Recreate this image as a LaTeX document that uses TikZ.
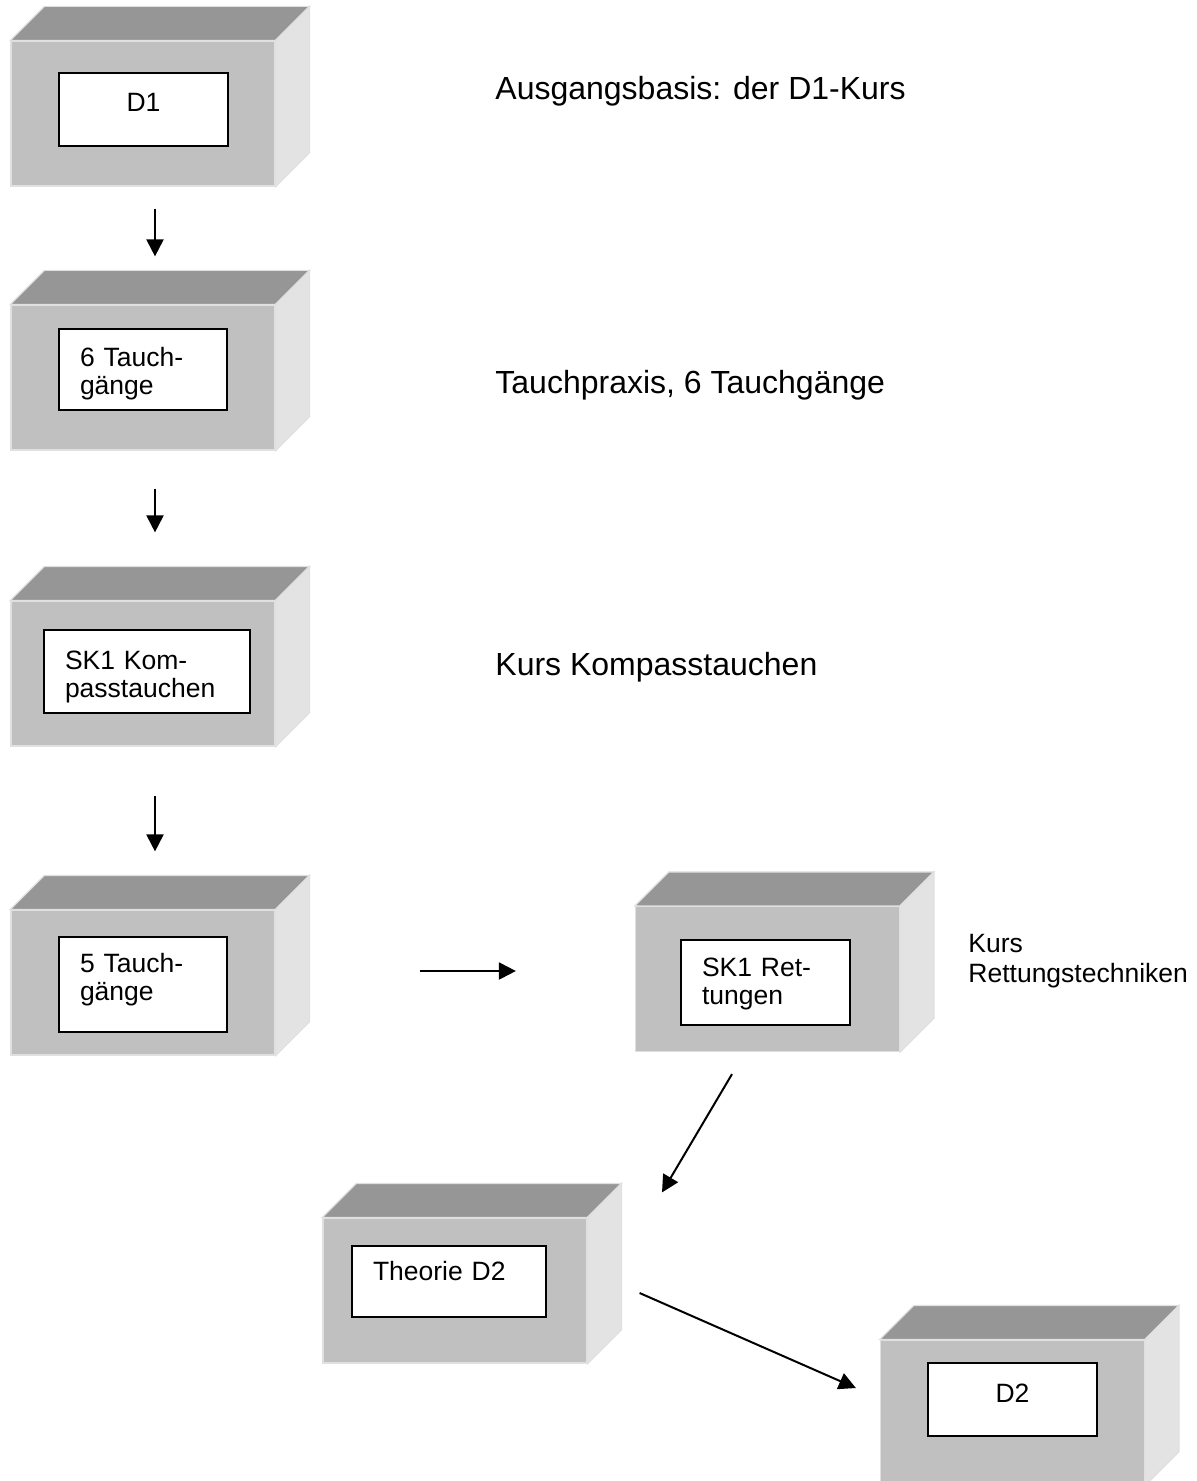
\documentclass[tikz,border=0pt]{standalone}
\usepackage{fontspec}
\setmainfont{Liberation Sans}
\usetikzlibrary{arrows.meta, positioning}
\definecolor{quaderfront}{RGB}{192,192,192}
\definecolor{quaderdeckel}{RGB}{150,150,150}
\definecolor{quaderseite}{RGB}{227,227,227}

\begin{document}
\begin{tikzpicture}[
  x=0.5pt, y=-0.5pt,
  quader/.style={rectangle, fill=quaderfront, draw=black!12, line width=0.6pt,
                 minimum width=132pt, minimum height=72.5pt, inner sep=0pt},
  deckel/.style={fill=quaderdeckel, draw=black!12, line width=0.6pt},
  seite/.style={fill=quaderseite, draw=black!12, line width=0.6pt},
  feld/.style={rectangle, draw=black, fill=white, line width=0.7pt, inner xsep=10.5pt,
               inner ysep=0pt, align=left, font=\fontsize{13.25}{14}\selectfont},
  notiz/.style={anchor=base west, inner sep=0pt, font=\fontsize{16}{19}\selectfont},
  pfeil/.style={-{Triangle[length=8.5pt, width=8.5pt]}, line width=1pt}
]
\useasboundingbox (0,0) rectangle (1197,1481);

% Quader (Vorderseiten)
\node[quader] (d1)      at (143,113.5)  {};
\node[quader] (tauch6)  at (143,377.5)  {};
\node[quader] (kompass) at (143,673.5)  {};
\node[quader] (tauch5)  at (143,982.5)  {};
\node[quader] (rettung) at (767.5,979)  {};
\node[quader] (theorie) at (455,1290.5) {};
\node[quader] (d2)      at (1012.5,1412.5) {};

\foreach \q in {d1,tauch6,kompass,tauch5,rettung,theorie,d2} {
  \filldraw[deckel] (\q.north west) -- ++(17pt,17pt) -- ([shift={(17pt,17pt)}]\q.north east)
    -- (\q.north east) -- cycle;
  \filldraw[seite] (\q.north east) -- ++(17pt,17pt) -- ([shift={(17pt,17pt)}]\q.south east)
    -- (\q.south east) -- cycle;
}

% Beschriftungsfelder
\node[feld, align=center, minimum width=84.5pt, text width=63.5pt, minimum height=36.5pt,
      text depth=7pt] (d1in) at (143.5,109.5) {D1};
\node[feld, minimum width=84pt, text width=63pt, minimum height=40.5pt,
      text depth=13pt] (tauch6in) at (143,369.5) {6 Tauch-\\gänge};
\node[feld, minimum width=103pt, text width=82pt, minimum height=41.5pt,
      text depth=11pt] (kompassin) at (147,671.5) {SK1 Kom-\\passtauchen};
\node[feld, minimum width=84pt, text width=63pt, minimum height=47.5pt,
      text depth=21.3pt] (tauch5in) at (143,984.5) {5 Tauch-\\gänge};
\node[feld, minimum width=84.5pt, text width=63.5pt, minimum height=42.5pt,
      text depth=15.6pt] (rettungin) at (765.5,982.5) {SK1 Ret-\\tungen};
\node[feld, minimum width=97pt, text width=76pt, minimum height=35.5pt,
      text depth=11.1pt] (theoriein) at (449,1281.5) {Theorie D2};
\node[feld, align=center, minimum width=84.5pt, text width=63.5pt, minimum height=36.5pt,
      text depth=6pt] (d2in) at (1012.5,1399.5) {D2};

% Erläuterungen
\node[notiz] (txtd1) at (495,99.5) {Ausgangsbasis: der D1-Kurs};
\node[notiz] (txttauch6) at (495,393.5) {Tauchpraxis, 6 Tauchgänge};
\node[notiz] (txtkompass) at (495,675.5) {Kurs Kompasstauchen};
\node[anchor=west, inner sep=0pt, align=left, font=\fontsize{13.25}{15}\selectfont]
  (txtrettung) at (968,961) {Kurs\\Rettungstechniken};

% Pfeile
\draw[pfeil] ([shift={(12,22)}]d1.south) -- ([shift={(12,-48)}]tauch6.north);
\draw[pfeil] ([shift={(12,38)}]tauch6.south) -- ([shift={(12,-68)}]kompass.north);
\draw[pfeil] ([shift={(12,49)}]kompass.south) -- ([shift={(12,-58)}]tauch5.north);
\draw[pfeil] ([shift={(144,-11.5)}]tauch5.east) -- ([shift={(-119,-8)}]rettung.west);
\draw[pfeil] ([shift={(-35.5,22)}]rettung.south) -- ([shift={(207,-25)}]theorie.north);
\draw[pfeil] ([shift={(52,2.5)}]theorie.east) -- ([shift={(-24,-24.5)}]d2.west);
\end{tikzpicture}
\end{document}
